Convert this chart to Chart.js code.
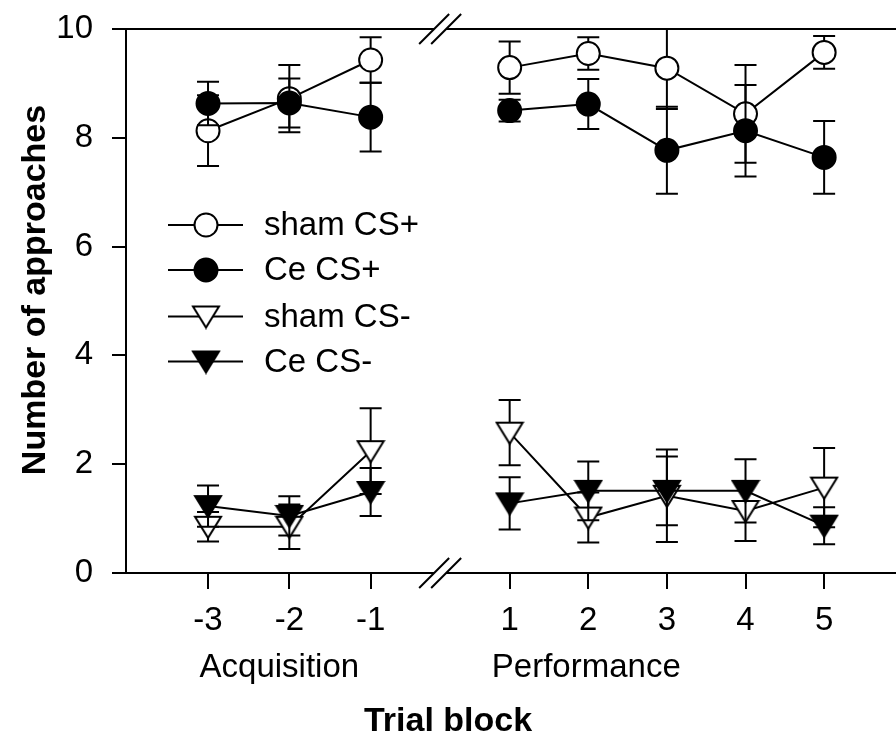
<!DOCTYPE html>
<html lang="en">
<head>
<meta charset="UTF-8">
<title>Number of approaches by trial block</title>
<script src="https://cdn.jsdelivr.net/npm/chart.js"></script>
<style>
  body { margin: 0; background: #fff; }
  canvas { display: block; }
</style>
</head>
<body>
<canvas id="approachChart" width="896" height="742"></canvas>
<script>
// trial blocks, negative = acquisition, positive = performance
const blocks = [-3, -2, -1, 1, 2, 3, 4, 5];
const blockLabels = ['-3', '-2', '-1', '1', '2', '3', '4', '5'];
const yTicks = [0, 2, 4, 6, 8, 10];

const shamPlus = [8.13, 8.72, 9.43, 9.29, 9.55, 9.28, 8.44, 9.57];
const shamPlusErr = [0.65, 0.62, 0.42, 0.48, 0.30, 0.75, 0.90, 0.30];
const cePlus = [8.63, 8.64, 8.38, 8.50, 8.62, 7.77, 8.13, 7.64];
const cePlusErr = [0.40, 0.45, 0.63, 0.20, 0.46, 0.80, 0.84, 0.67];
const shamMinus = [0.85, 0.85, 2.24, 2.58, 1.02, 1.42, 1.14, 1.57];
const shamMinusErr = [0.27, 0.41, 0.79, 0.60, 0.46, 0.85, 0.55, 0.73];
const ceMinus = [1.23, 1.05, 1.49, 1.28, 1.51, 1.51, 1.51, 0.87];
const ceMinusErr = [0.38, 0.36, 0.44, 0.48, 0.54, 0.63, 0.58, 0.34];

const FONT = "'Liberation Sans', Arial, Helvetica, sans-serif";

// broken x axis: the performance blocks sit after a gap and a bit closer together
function axisPos(b) {
  if (b < 0) return b;
  return 0.71 + (b - 1) * 0.967;
}

function toPoints(values) {
  const pts = [];
  blocks.forEach((b, i) => {
    if (i > 0 && b > 0 && blocks[i - 1] < 0) {
      pts.push({ x: (axisPos(blocks[i - 1]) + axisPos(b)) / 2, y: null });
    }
    pts.push({ x: axisPos(b), y: values[i] });
  });
  return pts;
}

function toErrors(errs) {
  const out = [];
  blocks.forEach((b, i) => {
    if (i > 0 && b > 0 && blocks[i - 1] < 0) out.push(null);
    out.push(errs[i]);
  });
  return out;
}

function triangleMarker(filled) {
  const c = document.createElement('canvas');
  c.width = 30;
  c.height = 26;
  const g = c.getContext('2d');
  g.beginPath();
  g.moveTo(2, 3);
  g.lineTo(28, 3);
  g.lineTo(15, 24);
  g.closePath();
  g.fillStyle = filled ? '#000' : '#fff';
  g.fill();
  g.lineWidth = 2;
  g.strokeStyle = '#000';
  g.stroke();
  return c;
}

const openTri = triangleMarker(false);
const filledTri = triangleMarker(true);

function series(label, values, errs, fill, style, order) {
  return {
    label: label,
    data: toPoints(values),
    errors: toErrors(errs),
    borderColor: '#000',
    borderWidth: 2,
    backgroundColor: fill,
    pointStyle: style,
    pointRadius: 11.5,
    pointBorderWidth: 2,
    pointBorderColor: '#000',
    pointBackgroundColor: fill,
    spanGaps: false,
    tension: 0,
    order: order
  };
}

const datasets = [
  series('sham CS+', shamPlus, shamPlusErr, '#fff', 'circle', 4),
  series('Ce CS+', cePlus, cePlusErr, '#000', 'circle', 3),
  series('sham CS-', shamMinus, shamMinusErr, '#fff', openTri, 2),
  series('Ce CS-', ceMinus, ceMinusErr, '#000', filledTri, 1)
];

// error bars drawn just before each series so its own markers cover them
const errorBars = {
  id: 'errorBars',
  beforeDatasetDraw(chart, args) {
    const ds = chart.data.datasets[args.index];
    const y = chart.scales.y;
    const ctx = chart.ctx;
    const area = chart.chartArea;
    ctx.save();
    ctx.beginPath();
    ctx.rect(area.left, area.top - 1, area.right - area.left, area.bottom - area.top + 2);
    ctx.clip();
    ctx.strokeStyle = '#000';
    ctx.lineWidth = 2;
    ds.data.forEach((p, i) => {
      if (p.y === null) return;
      const px = args.meta.data[i].x;
      const hi = y.getPixelForValue(p.y + ds.errors[i]);
      const lo = y.getPixelForValue(p.y - ds.errors[i]);
      ctx.beginPath();
      ctx.moveTo(px, hi);
      ctx.lineTo(px, lo);
      ctx.moveTo(px - 11, hi);
      ctx.lineTo(px + 11, hi);
      ctx.moveTo(px - 11, lo);
      ctx.lineTo(px + 11, lo);
      ctx.stroke();
    });
    ctx.restore();
  }
};

// top frame line, axis breaks, legend, group labels and axis titles
const decorations = {
  id: 'decorations',
  afterDraw(chart) {
    const ctx = chart.ctx;
    const area = chart.chartArea;
    const x = chart.scales.x;
    ctx.save();
    ctx.strokeStyle = '#000';
    ctx.lineWidth = 2;
    ctx.beginPath();
    ctx.moveTo(area.left - 1, area.top);
    ctx.lineTo(area.right, area.top);
    ctx.stroke();

    const bx = x.getPixelForValue((axisPos(-1) + axisPos(1)) / 2);
    [area.top, area.bottom].forEach(cy => {
      ctx.fillStyle = '#fff';
      ctx.beginPath();
      ctx.moveTo(bx - 21, cy + 15);
      ctx.lineTo(bx + 9, cy - 15);
      ctx.lineTo(bx + 21, cy - 15);
      ctx.lineTo(bx - 9, cy + 15);
      ctx.closePath();
      ctx.fill();
      ctx.beginPath();
      ctx.moveTo(bx - 21, cy + 15);
      ctx.lineTo(bx + 9, cy - 15);
      ctx.moveTo(bx - 9, cy + 15);
      ctx.lineTo(bx + 21, cy - 15);
      ctx.stroke();
    });

    // legend
    const rows = [225, 270, 316.5, 361.5];
    ctx.font = '33px ' + FONT;
    ctx.textAlign = 'left';
    ctx.textBaseline = 'middle';
    chart.data.datasets.forEach((ds, i) => {
      const ry = rows[i];
      ctx.beginPath();
      ctx.moveTo(168, ry);
      ctx.lineTo(243, ry);
      ctx.stroke();
      if (ds.pointStyle === 'circle') {
        ctx.beginPath();
        ctx.arc(206, ry, 11.5, 0, Math.PI * 2);
        ctx.fillStyle = ds.pointBackgroundColor;
        ctx.fill();
        ctx.stroke();
      } else {
        ctx.drawImage(ds.pointStyle, 206 - 15, ry - 13);
      }
      ctx.fillStyle = '#000';
      ctx.fillText(ds.label, 264, ry + 1);
    });

    // phase labels under the tick labels
    ctx.textAlign = 'center';
    ctx.fillText('Acquisition', x.getPixelForValue(axisPos(-2)) - 10, 668);
    ctx.fillText('Performance', x.getPixelForValue(axisPos(2)) - 2, 668);

    ctx.font = 'bold 34px ' + FONT;
    ctx.fillText('Trial block', 448, 722);
    ctx.translate(36, 290);
    ctx.rotate(-Math.PI / 2);
    ctx.fillText('Number of approaches', 0, 0);
    ctx.restore();
  }
};

const ctx = document.getElementById('approachChart').getContext('2d');
const approachChart = new Chart(ctx, {
  type: 'line',
  data: { datasets: datasets },
  plugins: [errorBars, decorations],
  options: {
    responsive: false,
    animation: false,
    devicePixelRatio: 1,
    layout: { autoPadding: false, padding: { top: 29, right: 0, left: 0, bottom: 0 } },
    plugins: {
      legend: { display: false },
      tooltip: { enabled: false }
    },
    scales: {
      x: {
        type: 'linear',
        min: -4.009,
        max: 5.462,
        afterBuildTicks: s => { s.ticks = blocks.map(b => ({ value: axisPos(b) })); },
        afterFit: s => {
          s.height = 169;
          s.paddingLeft = 0;
          s.paddingRight = 0;
        },
        ticks: {
          autoSkip: false,
          maxRotation: 0,
          color: '#000',
          font: { family: FONT, size: 33 },
          padding: 12,
          callback: (v, i) => blockLabels[i]
        },
        grid: { drawOnChartArea: false, tickLength: 16, color: '#000', lineWidth: 2 },
        border: { color: '#000', width: 2 }
      },
      y: {
        min: 0,
        max: 10,
        afterBuildTicks: s => { s.ticks = yTicks.map(v => ({ value: v })); },
        afterFit: s => {
          s.width = 126;
          s.paddingTop = 0;
          s.paddingBottom = 0;
        },
        ticks: {
          color: '#000',
          font: { family: FONT, size: 33 },
          padding: 19
        },
        grid: { drawOnChartArea: false, tickLength: 14, color: '#000', lineWidth: 2 },
        border: { color: '#000', width: 2 }
      }
    }
  }
});
</script>
</body>
</html>
